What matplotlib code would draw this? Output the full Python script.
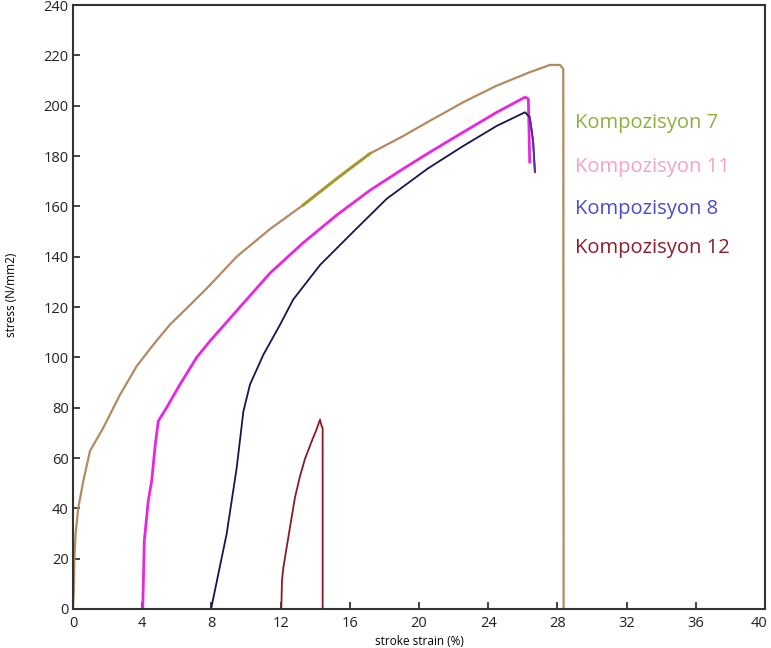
import matplotlib.pyplot as plt
import matplotlib.transforms as mtransforms

# stress-strain curves
komp7_strain = [0, 0.05, 0.08, 0.15, 0.3, 0.6, 0.98, 1.75, 2.72, 3.68, 4.64, 5.6, 6.57, 7.73,
                9.46, 11.39, 13.3, 15.24, 16.2, 17.17, 19.1, 20.5, 22.56, 24.5, 26.4, 27.57,
                28.15, 28.34, 28.36]
komp7_stress = [0, 8, 20, 30, 40, 51, 62.8, 72, 85.2, 96.5, 105, 113, 119.5, 127.4,
                140, 151, 160.5, 171, 176, 181, 188, 193.5, 201.4, 208, 213.3, 216.2,
                216.2, 214.6, 0]

komp11_strain = [4.03, 4.08, 4.12, 4.35, 4.55, 4.75, 4.93, 5.41, 6.18, 7.15, 7.92, 9.46,
                 11.39, 13.3, 15.24, 17.17, 19.1, 20.5, 22.56, 24.5, 26.13, 26.32, 26.36, 26.4]
komp11_stress = [0, 15, 27, 43, 51, 65, 74.7, 80, 89.2, 100, 106.5, 118.5,
                 133.5, 145.5, 156.5, 166.4, 175, 181, 189.5, 197.4, 203.4, 202.7, 190, 177.6]

komp8_strain = [7.98, 8.88, 9.46, 9.85, 10.23, 11.0, 11.97, 12.73, 14.28, 16.2, 18.13,
                20.5, 22.56, 24.5, 26.13, 26.4, 26.5, 26.6, 26.7]
komp8_stress = [0, 29.8, 56, 78.6, 89.2, 101, 113, 123, 136.7, 149.9, 163,
                175, 184, 192, 197.4, 195.4, 190.8, 185.5, 173.7]

komp12_strain = [12.04, 12.08, 12.16, 12.54, 12.83, 13.1, 13.4, 13.8, 14.08, 14.28, 14.37, 14.43, 14.43]
komp12_stress = [0, 11.3, 16.5, 32.4, 44.3, 52.2, 59.5, 66.7, 71.4, 75.3, 72.7, 72, 0]

labels = ["Kompozisyon 7", "Kompozisyon 11", "Kompozisyon 8", "Kompozisyon 12"]
label_colors = ["#8fae3e", "#f4a3c6", "#4b4bcc", "#8c1c2c"]
label_y = [193, 175.5, 159, 143.5]

x_ticks = list(range(0, 41, 4))
y_ticks = list(range(0, 241, 20))

plt.rcParams['font.family'] = ['Open Sans', 'DejaVu Sans']

fig = plt.figure(figsize=(7.71, 6.48), dpi=100)
ax = fig.add_axes([0.0947, 0.0602, 0.8975, 0.932])

ax.plot(komp7_strain, komp7_stress, color="#b48a60", lw=1.6)
# olive patch where the komp 7 trace shows through
ax.plot(komp7_strain[16:20], komp7_stress[16:20], color="#a59a30", lw=2.2)
ax.plot(komp11_strain, komp11_stress, color="#e826e0", lw=2.0)
ax.plot(komp8_strain, komp8_stress, color="#16164e", lw=1.3)
ax.plot(komp8_strain[-4:], komp8_stress[-4:], color="#5a2ab8", lw=1.3)
ax.plot(komp12_strain, komp12_stress, color="#8b1a22", lw=1.3)

for name, col, yy in zip(labels, label_colors, label_y):
    ax.text(29.0, yy, name, color=col, fontsize=14.5, va="center", ha="left")

ax.set_xlim(0, 40)
ax.set_ylim(0, 240)
ax.set_xticks(x_ticks)
ax.set_yticks(y_ticks)
ax.tick_params(direction="in", length=5, width=1.2, labelsize=10.5, colors="#222222",
               top=False, right=False)
ax.tick_params(axis="y", pad=3)
ax.tick_params(axis="x", pad=5)

# last x label sits a little inside the figure edge
last = ax.get_xticklabels()[-1]
last.set_transform(last.get_transform() + mtransforms.ScaledTranslation(-4 / 72, 0, fig.dpi_scale_trans))

for s in ax.spines.values():
    s.set_color("#333333")
    s.set_linewidth(1.5)

ax.set_xlabel("stroke strain (%)", fontsize=8.5)
ax.set_ylabel("stress (N/mm2)", fontsize=8.5)
ax.xaxis.set_label_coords(0.5, -0.043)
ax.yaxis.set_label_coords(-0.08, 0.52)

plt.savefig("out.png", dpi=100)
